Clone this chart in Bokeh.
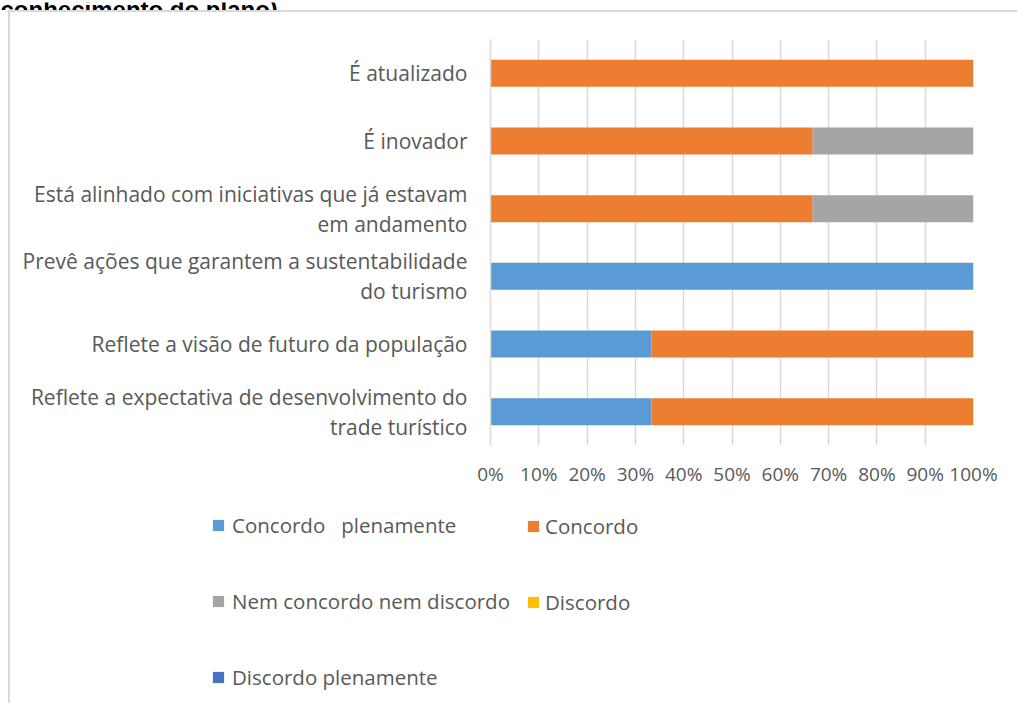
from bokeh.plotting import figure
from bokeh.layouts import column, row
from bokeh.models import (Legend, LegendItem, Label, FactorRange,
                          Range1d, FixedTicker, ColumnDataSource)
from bokeh.embed import file_html
from bokeh.resources import INLINE

# ---- data ----
categories = [
    "É atualizado",
    "É inovador",
    "Está alinhado com iniciativas que já estavam\nem andamento",
    "Prevê ações que garantem a sustentabilidade\ndo turismo",
    "Reflete a visão de futuro da população",
    "Reflete a expectativa de desenvolvimento do\ntrade turístico",
]
series_names = ["Concordo   plenamente", "Concordo", "Nem concordo nem discordo",
                "Discordo", "Discordo plenamente"]
concordo_plenamente = [0, 0, 0, 100, 33.3, 33.3]
concordo = [100, 66.7, 66.7, 0, 66.7, 66.7]
nem_concordo_nem_discordo = [0, 33.3, 33.3, 0, 0, 0]
discordo = [0, 0, 0, 0, 0, 0]
discordo_plenamente = [0, 0, 0, 0, 0, 0]
tick_values = [0, 10, 20, 30, 40, 50, 60, 70, 80, 90, 100]
tick_labels = ["0%", "10%", "20%", "30%", "40%", "50%", "60%", "70%", "80%", "90%", "100%"]
title_text = "conhecimento do plano)"

colors = ["#5B9BD5", "#ED7D31", "#A5A5A5", "#FFC000", "#4472C4"]
keys = ["cp", "c", "n", "d", "dp"]

source = ColumnDataSource(dict(
    cat=categories, cp=concordo_plenamente, c=concordo,
    n=nem_concordo_nem_discordo, d=discordo, dp=discordo_plenamente))

FONT = "Open Sans"
TXT = "#595959"

# ---- title strip (only the lower part of the title is visible, as in the original) ----
pt = figure(width=1017, height=10, output_backend="svg", toolbar_location=None,
            x_range=Range1d(0, 1), y_range=Range1d(0, 1),
            x_axis_location=None, y_axis_location=None, min_border=0)
pt.grid.visible = False
pt.outline_line_color = None
pt.add_layout(Label(x=0, y=3, x_units="screen", y_units="screen", text=title_text,
                    text_font="Liberation Sans", text_font_style="bold",
                    text_font_size="24px", text_color="#000000",
                    text_baseline="alphabetic", text_align="left"))

# ---- main chart ----
p = figure(width=1007, height=488, output_backend="svg", toolbar_location=None,
           y_range=FactorRange(factors=list(reversed(categories))),
           x_range=Range1d(0, 100),
           min_border_left=480, min_border_right=44,
           min_border_top=27, min_border_bottom=55)

renderers = p.hbar_stack(keys, y="cat", height=0.4, color=colors, line_color=None,
                         source=source)

p.outline_line_color = None
p.ygrid.visible = False
p.xgrid.grid_line_color = "#d9d9d9"
p.xgrid.grid_line_width = 1.5
p.xaxis.ticker = FixedTicker(ticks=tick_values)
p.xaxis.major_label_overrides = {v: l for v, l in zip(tick_values, tick_labels)}
for ax in (p.xaxis[0], p.yaxis[0]):
    ax.major_tick_line_color = None
    ax.minor_tick_line_color = None
    ax.major_label_text_font = FONT
    ax.major_label_text_color = TXT
p.xaxis.major_label_text_font_size = "19px"
p.yaxis.major_label_text_font_size = "21px"
p.yaxis.major_label_text_line_height = 1.08
p.xaxis.axis_line_color = None
p.xaxis.major_label_standoff = 9
p.yaxis.axis_line_color = "#d9d9d9"
p.yaxis.axis_line_width = 1.5
p.yaxis.major_label_standoff = 17
p.yaxis.major_label_text_align = "center"

# ---- legend strip (its own plot; legend swatches come from hidden copies of the series) ----
pl = figure(width=1007, height=203, output_backend="svg", toolbar_location=None,
            x_range=Range1d(-1000, -999), y_range=FactorRange(factors=list(reversed(categories))),
            x_axis_location=None, y_axis_location=None, min_border=0)
pl.grid.visible = False
pl.outline_line_color = None
legend_renderers = pl.hbar_stack(keys, y="cat", height=0.4, color=colors, line_color=None,
                                 source=source)

def make_legend(idx, loc, standoff):
    items = [LegendItem(label=series_names[i], renderers=[legend_renderers[i]]) for i in idx]
    return Legend(items=items, location=loc, orientation="vertical",
                  glyph_width=14, glyph_height=14, label_standoff=standoff,
                  label_height=27, spacing=48, padding=0, margin=0,
                  border_line_color=None, background_fill_alpha=0,
                  label_text_font=FONT, label_text_font_size="20.5px",
                  label_text_color=TXT)

pl.add_layout(make_legend([0, 2, 4], (201, 12.5), 7), "center")
pl.add_layout(make_legend([1, 3], (516, 87.5), 5), "center")

box = column(p, row(pl), spacing=0,
             styles={"border-left": "2px solid #d9d9d9",
                     "border-top": "2px solid #d9d9d9",
                     "margin-left": "8px"})
layout = column(pt, box, spacing=0)

open("out.html", "w").write(file_html(layout, INLINE))
